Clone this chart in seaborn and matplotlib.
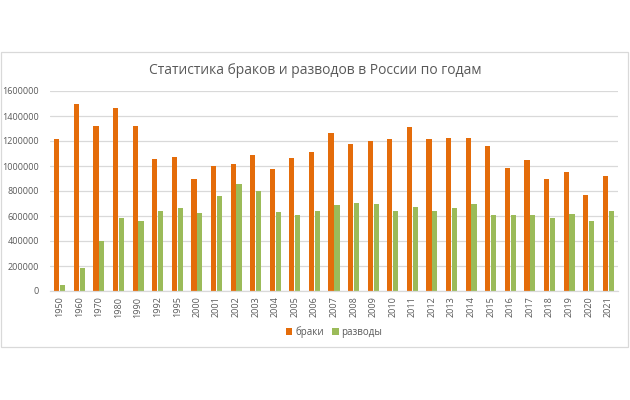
import numpy as np
import pandas as pd
import matplotlib
matplotlib.use("Agg")
import matplotlib.pyplot as plt
import matplotlib.patches as mpatches
import seaborn as sns

YEARS = ["1950", "1960", "1970", "1980", "1990", "1992", "1995", "2000", "2001", "2002",
         "2003", "2004", "2005", "2006", "2007", "2008", "2009", "2010", "2011", "2012",
         "2013", "2014", "2015", "2016", "2017", "2018", "2019", "2020", "2021"]
MARRIAGES = [1220000, 1499000, 1319000, 1465000, 1320000, 1054000, 1075000, 897000, 1001000, 1020000,
             1092000, 979000, 1066000, 1113000, 1262000, 1179000, 1200000, 1215000, 1316000, 1213000,
             1226000, 1226000, 1161000, 986000, 1050000, 893000, 951000, 770000, 924000]
DIVORCES = [49000, 184000, 397000, 581000, 560000, 640000, 666000, 628000, 764000, 854000,
            799000, 636000, 605000, 641000, 685000, 704000, 700000, 639000, 670000, 644000,
            668000, 694000, 612000, 608000, 611000, 584000, 619000, 564000, 644000]
SERIES = ["браки", "разводы"]

ORANGE = "#E46C0A"
GREEN = "#9BBB59"
TEXT = "#595959"
GRID = "#D9D9D9"

sns.set_theme(style="white")
plt.rcParams["font.family"] = ["Open Sans", "DejaVu Sans"]

df = pd.DataFrame({
    "year": YEARS * 2,
    "value": MARRIAGES + DIVORCES,
    "series": [SERIES[0]] * len(YEARS) + [SERIES[1]] * len(YEARS),
})

fig = plt.figure(figsize=(6.3, 4.0), dpi=100)
ax = fig.add_axes([50 / 630, 109 / 400, 568 / 630, 200 / 400])

sns.barplot(data=df, x="year", y="value", hue="series", order=YEARS,
            palette=[ORANGE, GREEN], width=0.6, gap=0.12, linewidth=0,
            saturation=1, ax=ax)

ax.set_ylim(0, 1600000)
ax.set_xlim(-0.5, len(YEARS) - 0.5)
ax.set_yticks(np.arange(0, 1600001, 200000))
ax.yaxis.set_major_formatter(matplotlib.ticker.FuncFormatter(lambda v, p: f"{int(v)}"))
ax.grid(axis="y", color=GRID, lw=0.9)
ax.set_axisbelow(True)
for s in ["top", "right", "left"]:
    ax.spines[s].set_visible(False)
ax.spines["bottom"].set_color(GRID)
ax.spines["bottom"].set_linewidth(0.9)
ax.tick_params(axis="x", rotation=90, labelsize=6.5, colors=TEXT, length=0, pad=4)
ax.tick_params(axis="y", labelsize=6.5, colors=TEXT, length=0, pad=8)
ax.set_xlabel("")
ax.set_ylabel("")

sns.move_legend(ax, "center", bbox_to_anchor=(0.5, -0.205), ncol=2, frameon=False,
                title=None, fontsize=7, handlelength=0.7, handleheight=0.7,
                handletextpad=0.3, columnspacing=0.8)
for t in ax.get_legend().get_texts():
    t.set_color(TEXT)

fig.text(0.5, 0.825, "Статистика браков и разводов в России по годам",
         ha="center", va="center", fontsize=10, color=TEXT)

# chart frame like an Excel chart area
fig.add_artist(mpatches.Rectangle((1 / 630, 53 / 400), 627 / 630, 295 / 400,
                                  transform=fig.transFigure, fill=False,
                                  edgecolor=GRID, lw=0.9))

plt.savefig("out.png", dpi=100)
plt.close()
